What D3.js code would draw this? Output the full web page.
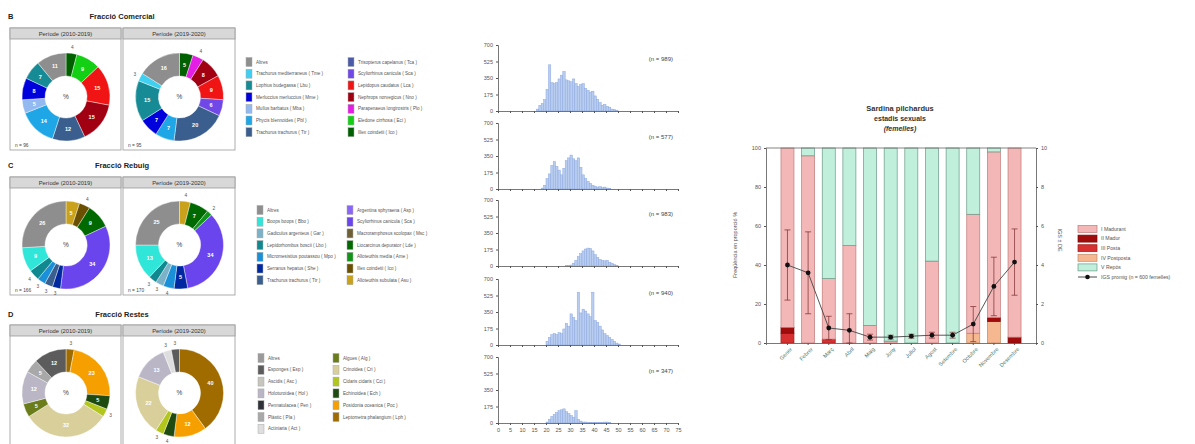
<!DOCTYPE html>
<html>
<head>
<meta charset="utf-8">
<script src="https://cdn.jsdelivr.net/npm/d3@7"></script>
<style>
  body { margin: 0; background: #fff; }
  svg { display: block; font-family: "Liberation Sans", Arial, sans-serif; }
</style>
</head>
<body>
<svg id="fig" width="1195" height="444"></svg>
<script>
// ---------------- Catch composition (donuts) ----------------
const comercialNames = ["Altres", "Trachurus mediterraneus ( Tme )", "Lophius budegassa ( Lbu )", "Merluccius merluccius ( Mme )",
  "Mullus barbatus ( Mba )", "Phycis blennoides ( Pbl )", "Trachurus trachurus ( Ttr )",
  "Trisopterus capelanus ( Tca )", "Scyliorhinus canicula ( Sca )", "Lepidopus caudatus ( Lca )", "Nephrops norvegicus ( Nno )",
  "Parapenaeus longirostris ( Plo )", "Eledone cirrhosa ( Eci )", "Illex coindetii ( Ico )"];
const comercialCodes = ["Altres", "Tme", "Lbu", "Mme", "Mba", "Pbl", "Ttr", "Tca", "Sca", "Lca", "Nno", "Plo", "Eci", "Ico"];
const comercialColors = ["#8e8e8e", "#3fcff0", "#168b95", "#0000dc", "#92b9f0", "#1ea6e6", "#3a5f8f",
  "#4b5ba8", "#7048e8", "#f01414", "#a00012", "#e41ee4", "#14d014", "#006000"];
const comercialSeg1 = ["Ico", "Eci", "Lca", "Nno", "Ttr", "Pbl", "Mba", "Mme", "Lbu", "Altres"];
const comercialPct1 = [4, 9, 15, 15, 12, 14, 5, 8, 7, 11];
const comercialSeg2 = ["Ico", "Plo", "Nno", "Lca", "Sca", "Ttr", "Pbl", "Mme", "Lbu", "Tme", "Altres"];
const comercialPct2 = [5, 4, 8, 9, 6, 20, 7, 7, 15, 3, 16];

const rebuigNames = ["Altres", "Boops boops ( Bbo )", "Gadiculus argenteus ( Gar )", "Lepidorhombus boscii ( Lbo )",
  "Micromesistius poutassou ( Mpo )", "Serranus hepatus ( She )", "Trachurus trachurus ( Ttr )",
  "Argentina sphyraena ( Asp )", "Scyliorhinus canicula ( Sca )", "Macroramphosus scolopax ( Msc )", "Liocarcinus depurator ( Lde )",
  "Alloteuthis media ( Ame )", "Illex coindetii ( Ico )", "Alloteuthis subulata ( Asu )"];
const rebuigCodes = ["Altres", "Bbo", "Gar", "Lbo", "Mpo", "She", "Ttr", "Asp", "Sca", "Msc", "Lde", "Ame", "Ico", "Asu"];
const rebuigColors = ["#8e8e8e", "#30e6d8", "#7cb2c8", "#10888f", "#1a90d8", "#0028a0", "#3a5f8f",
  "#8a66f8", "#6a44ec", "#6e6034", "#006a00", "#12941a", "#6a5000", "#c9a11a"];
const rebuigSeg1 = ["Asu", "Ico", "Lde", "Sca", "She", "Ttr", "Mpo", "Lbo", "Bbo", "Altres"];
const rebuigPct1 = [5, 4, 9, 34, 3, 3, 3, 4, 9, 26];
const rebuigSeg2 = ["Asu", "Lde", "Ame", "Sca", "She", "Mpo", "Gar", "Lbo", "Bbo", "Altres"];
const rebuigPct2 = [4, 7, 2, 34, 5, 4, 3, 3, 13, 25];

const restesNames = ["Altres", "Esponges ( Esp )", "Ascidis ( Asc )", "Holoturoidea ( Hol )", "Pennatulacea ( Pen )",
  "Plàstic ( Pla )", "Actiniaria ( Act )",
  "Algues ( Alg )", "Crinoidea ( Cri )", "Cidaris cidaris ( Cci )", "Echinoidea ( Ech )",
  "Posidonia oceanica ( Poc )", "Leptometra phalangium ( Lph )"];
const restesCodes = ["Altres", "Esp", "Asc", "Hol", "Pen", "Pla", "Act", "Alg", "Cri", "Cci", "Ech", "Poc", "Lph"];
const restesColors = ["#9a9a9a", "#5c5c5c", "#c6c6be", "#bab6c6", "#30303a", "#a8a8a8", "#dedede",
  "#6a7d1a", "#d9cf9a", "#b2c61e", "#1f4a10", "#f5a000", "#a06c00"];
const restesSeg1 = ["Lph", "Poc", "Ech", "Cci", "Cri", "Alg", "Hol", "Pla", "Esp"];
const restesPct1 = [3, 23, 5, 3, 32, 5, 12, 5, 12];
const restesSeg2 = ["Lph", "Poc", "Ech", "Cci", "Cri", "Hol", "Act", "Esp"];
const restesPct2 = [40, 12, 4, 3, 22, 13, 3, 3];

const periodLabels = ["Període (2010-2019)", "Període (2019-2020)"];

// ---------------- Length-frequency histograms ----------------
const lengthBins = [15, 16, 17, 18, 19, 20, 21, 22, 23, 24, 25, 26, 27, 28, 29, 30, 31, 32, 33, 34, 35,
  36, 37, 38, 39, 40, 41, 42, 43, 44, 45, 46, 47, 48, 49, 50];
const hist1 = [0, 20, 60, 80, 120, 230, 490, 300, 290, 300, 340, 380, 420, 330, 320, 310, 340, 290, 260, 280, 290,
  240, 220, 200, 210, 160, 120, 90, 60, 70, 50, 40, 20, 15, 5, 0];
const hist2 = [0, 0, 0, 10, 40, 110, 160, 250, 290, 240, 200, 150, 220, 300, 330, 360, 320, 300, 330, 230, 150,
  110, 80, 60, 40, 30, 20, 25, 15, 20, 10, 5, 0, 0, 0, 0];
const hist3 = [0, 0, 0, 0, 0, 0, 0, 0, 0, 0, 0, 0, 0, 5, 5, 10, 30, 60, 100, 130, 160,
  180, 190, 185, 160, 120, 90, 70, 60, 55, 60, 40, 30, 15, 5, 0];
const hist4 = [0, 0, 0, 0, 0, 40, 80, 110, 120, 110, 130, 120, 170, 230, 200, 330, 290, 260, 560, 340, 380,
  360, 330, 300, 560, 260, 240, 200, 160, 120, 100, 80, 60, 40, 20, 10];
const hist5 = [0, 0, 0, 0, 0, 10, 40, 70, 90, 110, 130, 140, 150, 120, 100, 80, 60, 130, 40, 20, 10,
  10, 5, 5, 5, 5, 5, 5, 5, 10, 10, 5, 0, 0, 0, 0];
const histSeries = [hist1, hist2, hist3, hist4, hist5];
const histN = [989, 577, 983, 940, 347];
const histYTicks = [0, 175, 350, 525, 700];
const histXTicks = [0, 5, 10, 15, 20, 25, 30, 35, 40, 45, 50, 55, 60, 65, 70, 75];

// ---------------- Sexual stages by month ----------------
const months = ["Gener", "Febrer", "Març", "Abril", "Maig", "Juny", "Juliol", "Agost", "Setembre", "Octubre", "Novembre", "Desembre"];
const stageNames = ["I Madurant", "II Madur", "III Posta", "IV Postposta", "V Repòs"];
const stageI = [92, 96, 31, 50, 9, 1, 0, 42, 0, 61, 85, 97];
const stageII = [3, 0, 0, 0, 0, 0, 0, 0, 0, 0, 2, 3];
const stageIII = [5, 0, 2, 0, 0, 0, 0, 0, 0, 0, 0, 0];
const stageIV = [0, 0, 0, 0, 0, 0, 0, 0, 0, 5, 11, 0];
const stageV = [0, 4, 67, 50, 91, 99, 100, 58, 100, 34, 2, 0];
const igsMean = [4.0, 3.6, 0.77, 0.65, 0.3, 0.3, 0.35, 0.4, 0.4, 0.97, 2.9, 4.15];
const igsSD = [1.8, 2.1, 0.6, 0.85, 0.15, 0.1, 0.1, 0.15, 0.15, 0.9, 1.5, 1.7];
const pctTicks = [0, 20, 40, 60, 80, 100];
const igsTicks = [0, 2, 4, 6, 8, 10];

const svg = d3.select("#fig");

// ===== Donut panels =====
function donutPanel(o) {
  const g = svg.append("g");
  g.append("text").attr("x", 8).attr("y", o.titleY).attr("font-size", 7.5).attr("font-weight", "bold")
    .attr("fill", "#222").text(o.letter);
  g.append("text").attr("x", 122).attr("y", o.titleY).attr("text-anchor", "middle").attr("font-size", 7.5)
    .attr("font-weight", "bold").attr("fill", "#222").text(o.title);

  const colorOf = d3.scaleOrdinal().domain(o.codes).range(o.colors);
  const boxes = [[10, 121], [123, 235]];
  const segs = [[o.seg1, o.pct1], [o.seg2, o.pct2]];
  boxes.forEach(([x0, x1], i) => {
    g.append("rect").attr("x", x0).attr("y", o.boxTop).attr("width", x1 - x0).attr("height", o.boxBottom - o.boxTop)
      .attr("fill", "#fff").attr("stroke", "#9a9a9a").attr("stroke-width", 0.8);
    g.append("rect").attr("x", x0).attr("y", o.boxTop).attr("width", x1 - x0).attr("height", 11)
      .attr("fill", "#d8d8d8").attr("stroke", "#9a9a9a").attr("stroke-width", 0.8);
    g.append("text").attr("x", (x0 + x1) / 2).attr("y", o.boxTop + 8).attr("text-anchor", "middle")
      .attr("font-size", 5.8).attr("fill", "#333").text(periodLabels[i]);

    const cx = (x0 + x1) / 2 + 0.5, cy = o.cy;
    const data = segs[i][0].map((c, k) => ({ code: c, value: segs[i][1][k] }));
    const pie = d3.pie().sort(null).value(d => d.value);
    const arc = d3.arc().innerRadius(21).outerRadius(44);
    const arcs = pie(data);
    const dg = g.append("g").attr("transform", `translate(${cx},${cy})`);
    dg.selectAll("path").data(arcs).join("path").attr("d", arc)
      .attr("fill", d => colorOf(d.data.code)).attr("stroke", "#fff").attr("stroke-width", 0.4);
    const inner = d3.arc().innerRadius(32.5).outerRadius(32.5);
    const outer = d3.arc().innerRadius(50).outerRadius(50);
    dg.selectAll("text.in").data(arcs.filter(d => d.data.value >= 5)).join("text").attr("class", "in")
      .attr("transform", d => `translate(${inner.centroid(d)})`).attr("text-anchor", "middle").attr("dy", "0.35em")
      .attr("font-size", 5.5).attr("font-weight", "bold").attr("fill", "#fff").text(d => d.data.value);
    dg.selectAll("text.out").data(arcs.filter(d => d.data.value < 5)).join("text").attr("class", "out")
      .attr("transform", d => `translate(${outer.centroid(d)})`).attr("text-anchor", "middle").attr("dy", "0.35em")
      .attr("font-size", 4.8).attr("fill", "#555").text(d => d.data.value);
    dg.append("text").attr("text-anchor", "middle").attr("dy", "0.35em").attr("font-size", 6.5)
      .attr("fill", "#444").text("%");
    if (o.foot) {
      g.append("text").attr("x", x0 + 5).attr("y", o.boxBottom - 3).attr("font-size", 4.8).attr("fill", "#444")
        .text(o.foot[i]);
    }
  });

  // Legend in two columns
  const lg = g.append("g");
  o.names.forEach((name, k) => {
    const col = k < 7 ? 0 : 1, row = k % 7;
    const x = o.legX[col], y = o.legY + row * o.legStep;
    lg.append("rect").attr("x", x).attr("y", y - 4.5).attr("width", 6).attr("height", 9)
      .attr("fill", o.colors[k]).attr("stroke", "#aaa").attr("stroke-width", 0.5);
    lg.append("text").attr("x", x + 10).attr("y", y).attr("dy", "0.35em").attr("font-size", 4.6)
      .attr("fill", "#555").text(name);
  });
}

donutPanel({ letter: "B", title: "Fracció Comercial", titleY: 19, boxTop: 28, boxBottom: 150, cy: 97,
  codes: comercialCodes, colors: comercialColors, names: comercialNames,
  seg1: comercialSeg1, pct1: comercialPct1, seg2: comercialSeg2, pct2: comercialPct2,
  foot: ["n = 96", "n = 95"], legX: [246, 348], legY: 62, legStep: 11.7 });
donutPanel({ letter: "C", title: "Fracció Rebuig", titleY: 168, boxTop: 177, boxBottom: 295, cy: 245,
  codes: rebuigCodes, colors: rebuigColors, names: rebuigNames,
  seg1: rebuigSeg1, pct1: rebuigPct1, seg2: rebuigSeg2, pct2: rebuigPct2,
  foot: ["n = 166", "n = 170"], legX: [257, 347], legY: 210, legStep: 11.7 });
donutPanel({ letter: "D", title: "Fracció Restes", titleY: 317, boxTop: 325, boxBottom: 447, cy: 393,
  codes: restesCodes, colors: restesColors, names: restesNames,
  seg1: restesSeg1, pct1: restesPct1, seg2: restesSeg2, pct2: restesPct2,
  foot: null, legX: [258, 333], legY: 358, legStep: 11.8 });

// ===== Histograms =====
const xh = d3.scaleLinear().domain([0, 75]).range([498, 678]);
const histTops = [45, 123, 200, 279, 357];
const histH = 66;
histSeries.forEach((vals, i) => {
  const top = histTops[i], zero = top + histH;
  const y = d3.scaleLinear().domain([0, 700]).range([zero, top]);
  const g = svg.append("g");
  g.selectAll("rect").data(lengthBins.map((b, k) => ({ b, v: vals[k] })).filter(d => d.v > 0)).join("rect")
    .attr("x", d => xh(d.b)).attr("width", d => xh(d.b + 1) - xh(d.b))
    .attr("y", d => y(d.v)).attr("height", d => zero - y(d.v))
    .attr("fill", "#b9cdf0").attr("stroke", "#8ea9de").attr("stroke-width", 0.5);

  const ay = g.append("g").attr("transform", `translate(${xh(0)},0)`)
    .call(d3.axisLeft(y).tickValues(histYTicks).tickSize(2).tickPadding(3));
  const ax = g.append("g").attr("transform", `translate(0,${zero})`)
    .call(d3.axisBottom(xh).tickValues(histXTicks).tickSize(2).tickPadding(3)
      .tickFormat(i === histSeries.length - 1 ? d3.format("d") : () => ""));
  [ay, ax].forEach(a => {
    a.select(".domain").attr("stroke", "#555").attr("stroke-width", 0.8);
    a.selectAll(".tick line").attr("stroke", "#555");
    a.selectAll("text").attr("font-size", 5.5).attr("fill", "#555").attr("font-family", "Liberation Sans, Arial");
  });
  g.append("text").attr("x", 673).attr("y", top + 16).attr("text-anchor", "end").attr("font-size", 6)
    .attr("fill", "#444").text(`(n = ${histN[i]})`);
});

// ===== Sexual stages stacked bars + IGS =====
const xb = d3.scaleBand().domain(months).range([766, 1036]).paddingInner(0.37).paddingOuter(0.725);
const yp = d3.scaleLinear().domain([0, 100]).range([343, 148]);
const yg = d3.scaleLinear().domain([0, 10]).range([343, 148]);

const stageSeries = { "IV Postposta": stageIV, "III Posta": stageIII, "II Madur": stageII, "I Madurant": stageI, "V Repòs": stageV };
const stackOrder = ["IV Postposta", "III Posta", "II Madur", "I Madurant", "V Repòs"];
const stageColor = d3.scaleOrdinal().domain(stageNames)
  .range(["#f3b7b7", "#a00c0c", "#d63030", "#f6b890", "#c0efdc"]);
const stageStroke = d3.scaleOrdinal().domain(stageNames)
  .range(["#c07a7a", "#7a0a0a", "#a02020", "#c08a6a", "#6a9a88"]);
const rows = months.map((m, k) => {
  const r = { month: m };
  stackOrder.forEach(s => r[s] = stageSeries[s][k]);
  return r;
});
const stacked = d3.stack().keys(stackOrder)(rows);

const bg = svg.append("g");
stacked.forEach(layer => {
  bg.selectAll(null).data(layer.filter(d => d[1] - d[0] > 0)).join("rect")
    .attr("x", d => xb(d.data.month)).attr("width", xb.bandwidth())
    .attr("y", d => yp(d[1])).attr("height", d => yp(d[0]) - yp(d[1]))
    .attr("fill", stageColor(layer.key)).attr("stroke", stageStroke(layer.key)).attr("stroke-width", 0.7);
});

// frame
bg.append("line").attr("x1", 766).attr("x2", 1036).attr("y1", 148).attr("y2", 148).attr("stroke", "#666").attr("stroke-width", 0.8);

const axL = bg.append("g").attr("transform", "translate(766,0)")
  .call(d3.axisLeft(yp).tickValues(pctTicks).tickSize(2).tickPadding(3));
const axR = bg.append("g").attr("transform", "translate(1036,0)")
  .call(d3.axisRight(yg).tickValues(igsTicks).tickSize(2).tickPadding(3));
const axB = bg.append("g").attr("transform", "translate(0,343)")
  .call(d3.axisBottom(xb).tickSize(2).tickPadding(3));
[axL, axR, axB].forEach(a => {
  a.select(".domain").attr("stroke", "#555").attr("stroke-width", 0.8);
  a.selectAll(".tick line").attr("stroke", "#555");
  a.selectAll("text").attr("font-size", 5.5).attr("fill", "#555").attr("font-family", "Liberation Sans, Arial");
});
axB.selectAll("text").attr("text-anchor", "end").attr("dx", "-0.2em").attr("dy", "0.6em")
  .attr("transform", "rotate(-45)").attr("fill", "#4a7a70");

// IGS error bars, line and points
const cxm = m => xb(m) + xb.bandwidth() / 2;
const eg = svg.append("g");
months.forEach((m, k) => {
  const lo = Math.max(0, igsMean[k] - igsSD[k]), hi = igsMean[k] + igsSD[k];
  eg.append("line").attr("x1", cxm(m)).attr("x2", cxm(m)).attr("y1", yg(lo)).attr("y2", yg(hi))
    .attr("stroke", "#7a2a2a").attr("stroke-width", 0.7);
  [lo, hi].forEach(v => eg.append("line").attr("x1", cxm(m) - 3).attr("x2", cxm(m) + 3)
    .attr("y1", yg(v)).attr("y2", yg(v)).attr("stroke", "#7a2a2a").attr("stroke-width", 0.7));
});
const line = d3.line().x((d, k) => cxm(months[k])).y(d => yg(d));
eg.append("path").attr("d", line(igsMean)).attr("fill", "none").attr("stroke", "#444").attr("stroke-width", 0.9);
eg.selectAll("circle").data(igsMean).join("circle")
  .attr("cx", (d, k) => cxm(months[k])).attr("cy", d => yg(d)).attr("r", 2.4).attr("fill", "#111");

// titles
const tg = svg.append("g").attr("fill", "#333").attr("text-anchor", "middle");
tg.append("text").attr("x", 900).attr("y", 111).attr("font-size", 7.5).attr("font-weight", "bold").text("Sardina pilchardus");
tg.append("text").attr("x", 900).attr("y", 121).attr("font-size", 7).attr("font-weight", "bold").text("estadis sexuals");
tg.append("text").attr("x", 900).attr("y", 131).attr("font-size", 7).attr("font-weight", "bold").attr("font-style", "italic").text("(femelles)");
tg.append("text").attr("transform", "translate(737,245) rotate(-90)").attr("font-size", 5.5).attr("fill", "#555")
  .text("Freqüència en proporció %");
tg.append("text").attr("transform", "translate(1058,240) rotate(90)").attr("font-size", 5.5).attr("fill", "#555")
  .text("IGS ± DE");

// legend
const lgd = svg.append("g");
stageNames.forEach((s, k) => {
  const y = 229 + k * 9.6;
  lgd.append("rect").attr("x", 1078).attr("y", y - 3.5).attr("width", 19).attr("height", 7)
    .attr("fill", stageColor(s)).attr("stroke", stageStroke(s)).attr("stroke-width", 0.7);
  lgd.append("text").attr("x", 1101).attr("y", y).attr("dy", "0.35em").attr("font-size", 5.2).attr("fill", "#555").text(s);
});
const ly = 229 + 5 * 9.6;
lgd.append("line").attr("x1", 1078).attr("x2", 1097).attr("y1", ly).attr("y2", ly).attr("stroke", "#333").attr("stroke-width", 0.9);
lgd.append("circle").attr("cx", 1087.5).attr("cy", ly).attr("r", 2.3).attr("fill", "#111");
lgd.append("text").attr("x", 1101).attr("y", ly).attr("dy", "0.35em").attr("font-size", 5.2).attr("fill", "#555")
  .text("IGS promig (n = 600 femelles)");
</script>
</body>
</html>
